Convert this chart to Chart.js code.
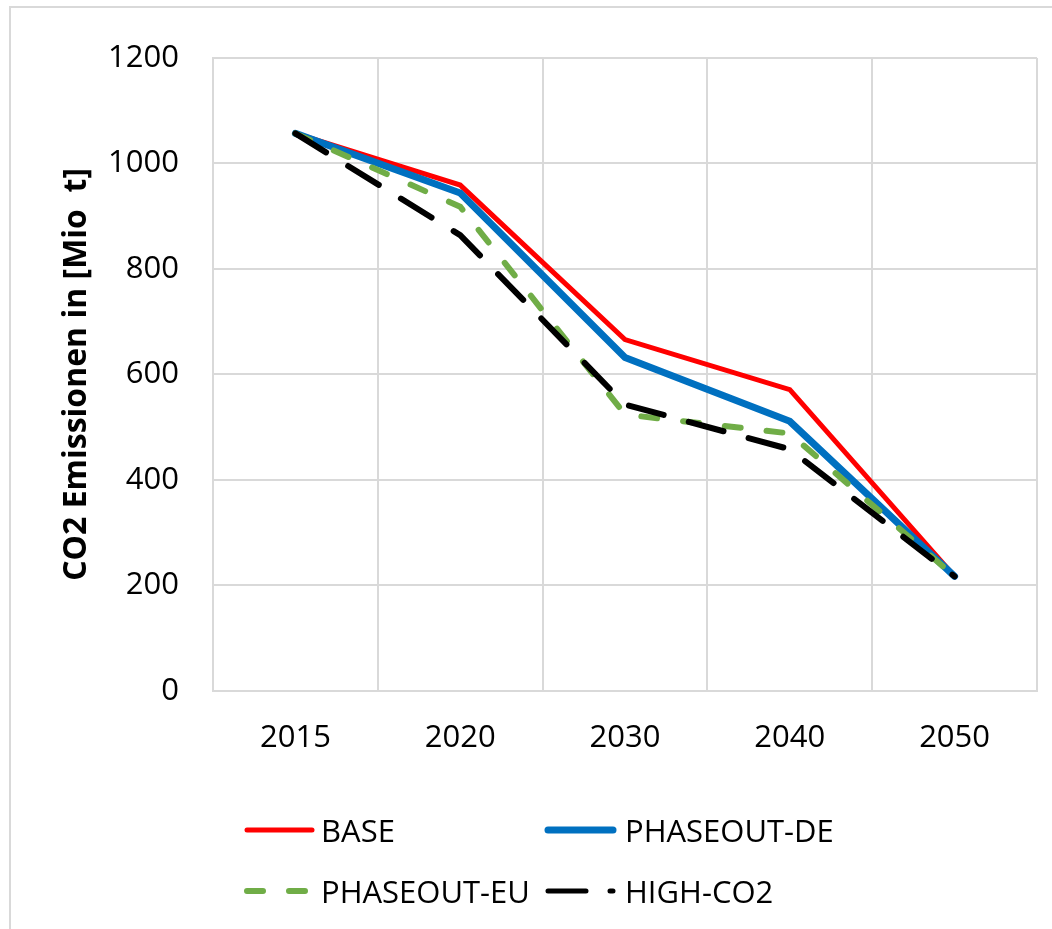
<!DOCTYPE html>
<html lang="de">
<head>
<meta charset="UTF-8">
<title>CO2 Emissionen</title>
<script src="https://cdn.jsdelivr.net/npm/chart.js"></script>
<style>
    html, body { margin: 0; padding: 0; background: #fff; overflow: hidden; }
    .frame { position: absolute; left: 9px; top: 6px; width: 1200px; height: 1100px; border: 2px solid #d9d9d9; }
    .wrap { position: absolute; left: 0; top: 0; width: 1052px; height: 929px; }
    .legende { position: absolute; font-family: "Open Sans", sans-serif; font-size: 31px; color: #000; line-height: 40px; white-space: nowrap; }
    .legende svg { position: absolute; top: 14px; }
    .legende span { position: absolute; top: 0; }
</style>
</head>
<body>
<div class="frame"></div>
<div class="wrap"><canvas id="grafico" width="1052" height="929"></canvas></div>
<div id="legende"></div>
<script>
    // Daten
    const jahre = ['2015', '2020', '2030', '2040', '2050'];
    const base = [1057, 959, 666, 571, 217];
    const phaseoutDE = [1057, 944, 632, 511, 217];
    const phaseoutEU = [1057, 918, 524, 488, 217];
    const highCO2 = [1057, 864, 543, 458, 217];

    const serien = [
        { label: 'BASE', data: base, color: '#ff0000', width: 5, dash: [], order: 3 },
        { label: 'PHASEOUT-DE', data: phaseoutDE, color: '#0070c0', width: 7, dash: [], order: 2 },
        { label: 'PHASEOUT-EU', data: phaseoutEU, color: '#70ad47', width: 6, dash: [16, 26], order: 1 },
        { label: 'HIGH-CO2', data: highCO2, color: '#000000', width: 6, dash: [36, 26], order: 0 }
    ];

    const datasets = serien.map(function (s) {
        return {
            label: s.label,
            data: s.data,
            borderColor: s.color,
            backgroundColor: s.color,
            borderWidth: s.width,
            borderDash: s.dash,
            borderCapStyle: 'round',
            borderJoinStyle: 'miter',
            pointRadius: 0,
            tension: 0,
            fill: false,
            order: s.order
        };
    });

    const schrift = '"Open Sans", sans-serif';

    new Chart(document.getElementById('grafico'), {
        type: 'line',
        data: { labels: jahre, datasets: datasets },
        options: {
            responsive: false,
            animation: false,
            layout: { padding: { top: 58, right: 15, bottom: 143, left: 50 } },
            plugins: { legend: { display: false }, tooltip: { enabled: false } },
            scales: {
                x: {
                    offset: true,
                    grid: { offset: true, color: '#d9d9d9', lineWidth: 2, drawTicks: false },
                    border: { color: '#d9d9d9', width: 2 },
                    ticks: { color: '#000', padding: 29, font: { family: schrift, size: 31 } }
                },
                y: {
                    min: 0,
                    max: 1200,
                    ticks: {
                        stepSize: 200, color: '#000', padding: 34, font: { family: schrift, size: 31 },
                        callback: function (v) { return String(v); }
                    },
                    grid: { color: '#d9d9d9', lineWidth: 2, drawTicks: false },
                    border: { color: '#d9d9d9', width: 2 },
                    title: {
                        display: true,
                        text: 'CO2 Emissionen in [Mio  t]',
                        color: '#000',
                        padding: { top: 8, bottom: 0 },
                        font: { family: schrift, size: 32, weight: 'bold' }
                    },
                    afterFit: function (scale) { scale.width = 163; }
                }
            }
        }
    });

    // Legende als HTML, zwei Spalten wie im Original
    const legPos = [
        { x: 243, y: 810 },
        { x: 544, y: 810 },
        { x: 243, y: 871 },
        { x: 544, y: 871 }
    ];
    const legDash = ['', '', '16 26', '38 24'];
    const legWidth = [5, 7, 6, 5];
    const box = document.getElementById('legende');
    serien.forEach(function (s, i) {
        const p = legPos[i];
        const d = document.createElement('div');
        d.className = 'legende';
        d.style.left = p.x + 'px';
        d.style.top = p.y + 'px';
        d.innerHTML =
            '<svg width="74" height="12" style="left:0">' +
            '<line x1="4" y1="6" x2="69" y2="6" stroke="' + s.color + '" stroke-width="' + legWidth[i] + '"' +
            ' stroke-linecap="round"' + (legDash[i] ? ' stroke-dasharray="' + legDash[i] + '"' : '') + '/></svg>' +
            '<span style="left:' + (i % 2 === 0 ? 78 : 81) + 'px">' + s.label + '</span>';
        box.appendChild(d);
    });
</script>
</body>
</html>
